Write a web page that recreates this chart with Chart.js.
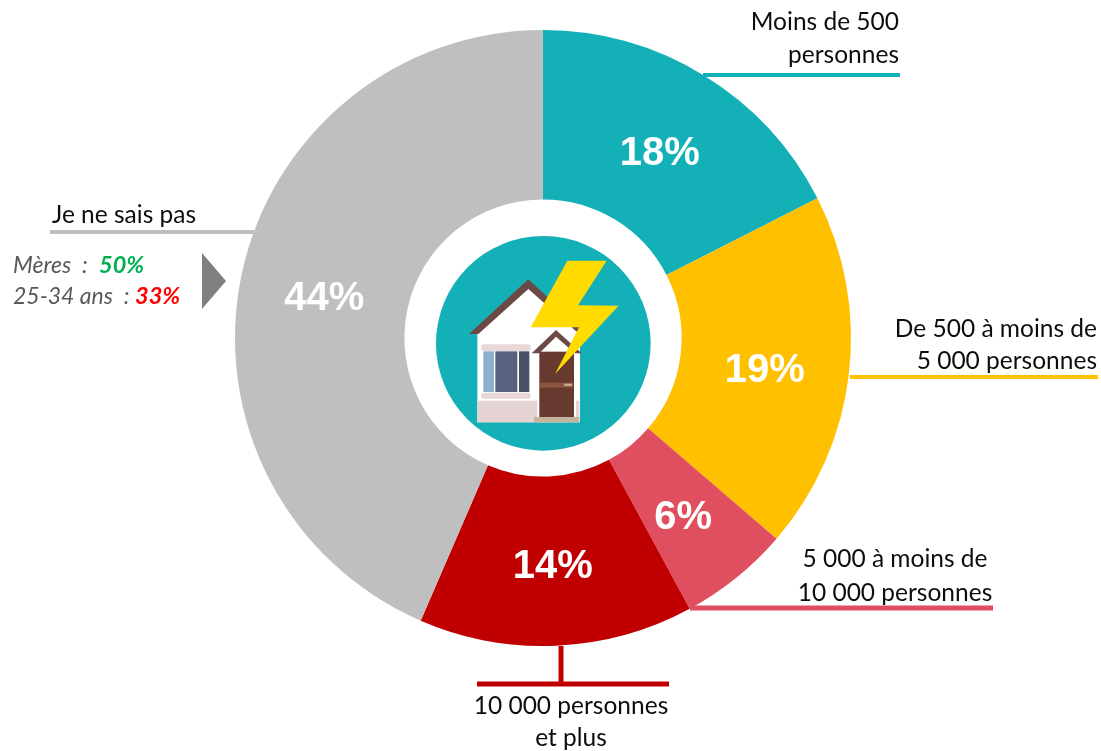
<!DOCTYPE html>
<html lang="fr">
<head>
<meta charset="utf-8">
<title>Taille de la commune</title>
<script src="https://cdn.jsdelivr.net/npm/chart.js@4/dist/chart.umd.min.js"></script>
<style>
    html, body { margin: 0; padding: 0; background: #fff; }
    #wrap { position: relative; width: 1101px; height: 751px; overflow: hidden; }
    #icon { position: absolute; left: 420px; top: 220px; width: 250px; height: 250px; }
</style>
</head>
<body>
<div id="wrap">
    <canvas id="chart" width="1101" height="751"></canvas>
    <!-- House icon in the middle of the ring -->
    <svg id="icon" viewBox="0 0 750 750">
        <circle cx="370" cy="370" r="322" fill="#14b0b8"/>
        <polygon points="172,342 325,205 480,340 480,607 172,607" fill="#fff"/>
        <rect x="172" y="542" width="306" height="65" fill="#e5d2d2"/>
        <rect x="183" y="373" width="149" height="20" rx="8" fill="#e8d8d8"/>
        <rect x="183" y="518" width="149" height="18" rx="8" fill="#e8d8d8"/>
        <rect x="190" y="394" width="32" height="122" fill="#8ab0cc"/>
        <rect x="226" y="394" width="66" height="122" fill="#5a6080"/>
        <rect x="297" y="394" width="31" height="122" fill="#4a5068"/>
        <polygon points="147,342 325,178 480,322 470,335 325,207 175,342" fill="#6b4a45"/>
        <rect x="352" y="395" width="116" height="197" fill="#fff"/>
        <polygon points="335,400 408,330 485,400 465,400 408,350 358,400" fill="#6b4a45"/>
        <rect x="358" y="395" width="104" height="197" fill="#663a2e"/>
        <rect x="360" y="488" width="100" height="15" fill="#8e5540"/>
        <rect x="432" y="491" width="24" height="7" fill="#c0a898"/>
        <rect x="342" y="591" width="136" height="16" fill="#c4b49e"/>
        <polygon points="442,122 560,122 474,256 596,257 405,462 477,322 332,322" fill="#ffdb00"/>
    </svg>
</div>
<script>
// Share of answers per town size (slice sizes, labels are the rounded figures)
const categories = ['Moins de 500 personnes', 'De 500 à moins de 5 000 personnes', '5 000 à moins de 10 000 personnes', '10 000 personnes et plus', 'Je ne sais pas'];
const values = [17.5, 18.8, 5.8, 14.4, 43.5];
const colors = ['#14b0b8', '#ffc000', '#e04f5f', '#c00000', '#bfbfbf'];
const valueLabels = ['18%', '19%', '6%', '14%', '44%'];

const textFont = 'Lato, "Open Sans", sans-serif';

// Outside labels: text lines, anchor, x, baseline y
const outsideLabels = [
    { text: 'Moins de 500', align: 'right', x: 899, y: 30 },
    { text: 'personnes', align: 'right', x: 899, y: 63 },
    { text: 'De 500 à moins de', align: 'right', x: 1097, y: 337 },
    { text: '5 000 personnes', align: 'right', x: 1097, y: 369 },
    { text: '5 000 à moins de', align: 'center', x: 895, y: 567 },
    { text: '10 000 personnes', align: 'center', x: 895, y: 601 },
    { text: '10 000 personnes', align: 'center', x: 571, y: 714 },
    { text: 'et plus', align: 'center', x: 571, y: 746 },
    { text: 'Je ne sais pas', align: 'left', x: 52, y: 223 }
];

// Leader lines, one per slice
const leaderLines = [
    { color: colors[0], width: 4, points: [[703, 75], [900, 75]] },
    { color: colors[1], width: 4, points: [[850, 377], [1098, 377]] },
    { color: colors[2], width: 5, points: [[690, 608], [993, 608]] },
    { color: colors[3], width: 5, points: [[561, 646], [561, 684]] },
    { color: colors[3], width: 5, points: [[477, 684], [669, 684]] },
    { color: colors[4], width: 4, points: [[50, 232], [254, 232]] }
];

// Side note next to the grey slice
const noteLines = [
    { label: 'Mères  : ', value: '50%', color: '#00b050', y: 273, valueX: 99 },
    { label: '25-34 ans  : ', value: '33%', color: '#ff0000', y: 304, valueX: 135 }
];

const annotations = {
    id: 'annotations',
    afterDatasetsDraw(chart) {
        const ctx = chart.ctx;
        ctx.save();

        // Percent labels inside the slices
        ctx.font = 'bold 40px "Liberation Sans", Arial, sans-serif';
        ctx.fillStyle = '#fff';
        ctx.textAlign = 'center';
        ctx.textBaseline = 'middle';
        chart.getDatasetMeta(0).data.forEach((arc, i) => {
            const pos = arc.tooltipPosition();
            ctx.fillText(valueLabels[i], pos.x, pos.y + 6);
        });

        leaderLines.forEach(line => {
            ctx.strokeStyle = line.color;
            ctx.lineWidth = line.width;
            ctx.beginPath();
            ctx.moveTo(line.points[0][0], line.points[0][1]);
            ctx.lineTo(line.points[1][0], line.points[1][1]);
            ctx.stroke();
        });

        ctx.font = '24.5px ' + textFont;
        ctx.fillStyle = '#0d0d0d';
        ctx.textBaseline = 'alphabetic';
        outsideLabels.forEach(label => {
            ctx.textAlign = label.align;
            ctx.fillText(label.text, label.x, label.y);
        });

        // Italic note with coloured values
        ctx.textAlign = 'left';
        noteLines.forEach(note => {
            ctx.font = 'italic 23px ' + textFont;
            ctx.fillStyle = '#595959';
            ctx.fillText(note.label, 13, note.y);
            ctx.font = 'italic bold 23.5px ' + textFont;
            ctx.fillStyle = note.color;
            ctx.fillText(note.value, note.valueX, note.y);
        });

        // Arrow pointing at the grey slice
        ctx.fillStyle = '#7f7f7f';
        ctx.beginPath();
        ctx.moveTo(202, 253);
        ctx.lineTo(226, 281);
        ctx.lineTo(202, 309);
        ctx.closePath();
        ctx.fill();

        ctx.restore();
    }
};

new Chart(document.getElementById('chart'), {
    type: 'doughnut',
    data: {
        labels: categories,
        datasets: [{
            data: values,
            backgroundColor: colors,
            borderWidth: 0
        }]
    },
    options: {
        responsive: false,
        animation: false,
        cutout: '45%',
        layout: {
            padding: { left: 235, right: 250, top: 30, bottom: 105 }
        },
        plugins: {
            legend: { display: false },
            tooltip: { enabled: false }
        }
    },
    plugins: [annotations]
});
</script>
</body>
</html>
